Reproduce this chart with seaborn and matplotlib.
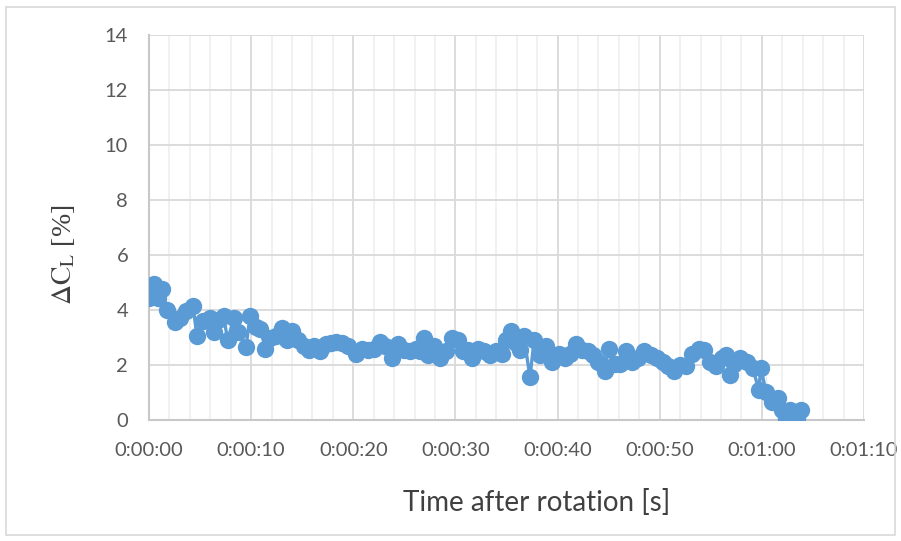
import matplotlib
matplotlib.use("Agg")
import matplotlib.pyplot as plt
import seaborn as sns
import pandas as pd
from matplotlib.ticker import MultipleLocator, FixedLocator, FixedFormatter
from matplotlib.patches import Rectangle

# ---- data ----
time_s = [0.0, 0.5, 0.9, 1.3, 1.8, 2.5, 3.0, 3.6, 4.3, 4.7, 5.3, 6.0, 6.4, 6.8, 7.3,
          7.7, 8.3, 8.7, 9.5, 9.9, 10.5, 10.9, 11.4, 11.8, 12.4, 13.0, 13.5, 14.0,
          14.6, 15.2, 15.7, 16.2, 16.7, 17.3, 17.8, 18.3, 18.9, 19.5, 20.3, 20.9,
          21.4, 22.0, 22.6, 23.1, 23.8, 24.4, 24.98, 25.6, 26.1, 26.5, 26.9, 27.3,
          27.9, 28.5, 29.1, 29.7, 30.3, 30.7, 31.2, 31.6, 32.2, 32.8, 33.4, 34.0,
          34.6, 34.96, 35.4, 35.9, 36.3, 36.7, 37.3, 37.7, 38.3, 38.9, 39.5, 40.1,
          40.7, 41.2, 41.8, 42.4, 43.0, 43.5, 44.0, 44.6, 45.0, 45.6, 46.1, 46.7,
          47.3, 47.9, 48.5, 49.1, 49.7, 50.3, 50.8, 51.4, 52.0, 52.6, 53.2, 53.8,
          54.3, 54.9, 55.5, 56.1, 56.5, 56.9, 57.3, 57.9, 58.5, 59.1, 59.7, 59.9,
          60.4, 60.4, 61.0, 61.6, 62.0, 62.4, 62.8, 63.4, 63.8]
delta_cl = [4.45, 4.95, 4.45, 4.75, 4.0, 3.55, 3.7, 3.95, 4.15, 3.05, 3.6, 3.7, 3.2,
            3.65, 3.8, 2.9, 3.7, 3.2, 2.65, 3.8, 3.4, 3.3, 2.6, 3.0, 3.05, 3.35,
            2.9, 3.25, 2.9, 2.7, 2.55, 2.7, 2.5, 2.75, 2.8, 2.85, 2.8, 2.7, 2.4,
            2.6, 2.55, 2.6, 2.85, 2.7, 2.25, 2.75, 2.55, 2.5, 2.6, 2.5, 3.0, 2.35,
            2.7, 2.25, 2.5, 3.0, 2.9, 2.5, 2.55, 2.25, 2.6, 2.5, 2.35, 2.5, 2.4,
            2.9, 3.25, 2.8, 2.55, 3.05, 1.55, 2.9, 2.35, 2.7, 2.1, 2.4, 2.25, 2.4,
            2.75, 2.55, 2.5, 2.35, 2.1, 1.8, 2.6, 2.05, 2.05, 2.5, 2.1, 2.25, 2.5,
            2.35, 2.25, 2.1, 1.95, 1.8, 2.0, 1.95, 2.4, 2.6, 2.55, 2.1, 1.95, 2.25,
            2.35, 1.65, 2.05, 2.25, 2.1, 1.9, 1.1, 1.9, 1.6, 0.45, 0.65, 0.8, 0.35,
            0.05, 0.35, 0.05, 0.35]
n = min(len(time_s), len(delta_cl))
time_s = time_s[:n]
delta_cl = delta_cl[:n]

x_ticks = [0, 10, 20, 30, 40, 50, 60, 70]
x_tick_labels = ["0:00:00", "0:00:10", "0:00:20", "0:00:30", "0:00:40",
                 "0:00:50", "0:01:00", "0:01:10"]
y_ticks = [0, 2, 4, 6, 8, 10, 12, 14]

df = pd.DataFrame({"t": time_s, "dcl": delta_cl})

sns.set_theme(style="white")
plt.rcParams["font.family"] = ["Lato", "DejaVu Sans"]
plt.rcParams["mathtext.fontset"] = "stix"

fig = plt.figure(figsize=(9.01, 5.41), dpi=100)
ax = fig.add_axes([149 / 901, 1 - 420 / 541, (864 - 149) / 901, (420 - 35) / 541])

# outer chart border
fig.patches.append(Rectangle((6 / 901, 6 / 541), 889 / 901, 528 / 541,
                             transform=fig.transFigure, fill=False,
                             edgecolor="#d9d9d9", linewidth=1.2, zorder=0))

sns.lineplot(data=df, x="t", y="dcl", ax=ax, sort=False, color="#5b9bd5",
             linewidth=2.4, marker="o", markersize=12.5, markeredgewidth=0,
             zorder=5)

ax.set_xlim(0, 70)
ax.set_ylim(0, 14)
ax.xaxis.set_major_locator(FixedLocator(x_ticks))
ax.xaxis.set_major_formatter(FixedFormatter(x_tick_labels))
ax.xaxis.set_minor_locator(MultipleLocator(2))
ax.yaxis.set_major_locator(FixedLocator(y_ticks))

ax.grid(which="major", axis="both", color="#d9d9d9", linewidth=1.3)
ax.grid(which="minor", axis="x", color="#f0f0f0", linewidth=1.3)
ax.set_axisbelow(True)

for s in ["top", "right"]:
    ax.spines[s].set_visible(False)
for s in ["left", "bottom"]:
    ax.spines[s].set_color("#c8c8c8")
    ax.spines[s].set_linewidth(1.5)

ax.tick_params(axis="both", which="both", length=0, labelsize=14.5,
               labelcolor="#595959")
ax.tick_params(axis="x", pad=16)
ax.tick_params(axis="y", pad=15)

ax.set_xlabel("Time after rotation [s]", fontsize=20, color="#404040")
ax.xaxis.set_label_coords((537 - 149) / 715, -(489 - 420) / 385)
ax.set_ylabel(r"$\Delta\mathrm{C}_{\mathrm{L}}$ [%]", fontsize=20, color="#404040",
              family=["Liberation Serif", "DejaVu Serif"])
ax.yaxis.set_label_coords(-(149 - 77) / 715, (420 - 255) / 385)

fig.savefig("out.png", dpi=100, facecolor="white")
